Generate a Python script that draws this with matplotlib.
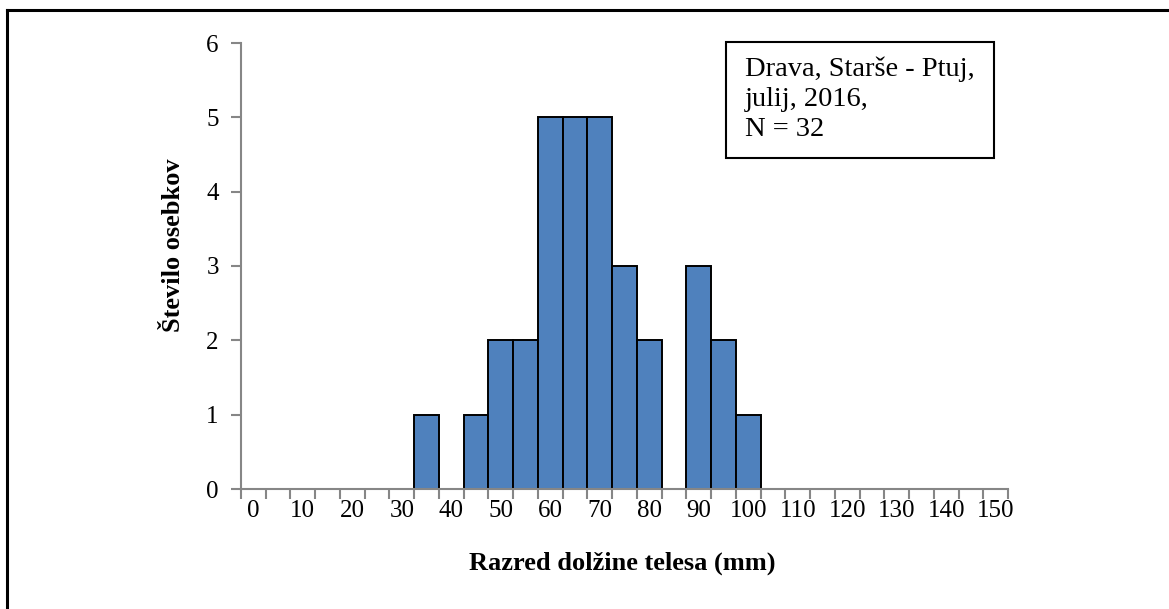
import matplotlib
matplotlib.use("Agg")
import matplotlib.pyplot as plt
from matplotlib.lines import Line2D
from matplotlib.patches import Rectangle

# Length classes (mm) and number of specimens per class
length_classes = list(range(0, 155, 5))
counts = [0, 0, 0, 0, 0, 0, 0, 1, 0, 1, 2, 2, 5, 5, 5, 3, 2, 0, 3, 2, 1,
          0, 0, 0, 0, 0, 0, 0, 0, 0, 0]
tick_labels = [str(c) if c % 10 == 0 else "" for c in length_classes]
y_ticks = [0, 1, 2, 3, 4, 5, 6]

plt.rcParams["font.family"] = ["Liberation Serif", "DejaVu Serif"]

fig = plt.figure(figsize=(11.69, 6.09), dpi=100)
ax = fig.add_axes([241 / 1169, 1 - 489 / 609, (1008 - 241) / 1169, (489 - 43) / 609])

pos = list(range(len(length_classes)))
ax.bar(pos, counts, width=1.0, color="#4F81BD", edgecolor="black", linewidth=1.4, zorder=3)

axis_col = "#868686"
ax.set_xlim(-0.5, len(length_classes) - 0.5)
ax.set_ylim(0, 6)
for side in ("top", "right"):
    ax.spines[side].set_visible(False)
for side in ("left", "bottom"):
    ax.spines[side].set_color(axis_col)
    ax.spines[side].set_linewidth(1.5)
ax.spines["bottom"].set_zorder(4)

# tick marks at class boundaries, labels centred in each class
ax.set_xticks([p - 0.5 for p in pos] + [pos[-1] + 0.5])
ax.set_xticklabels([])
ax.set_xticks(pos, minor=True)
ax.set_xticklabels(tick_labels, minor=True, fontsize=18)
ax.tick_params(axis="x", which="major", direction="out", length=7, width=1.5, color=axis_col)
ax.tick_params(axis="x", which="minor", length=0, pad=8)

ax.set_yticks(y_ticks)
ax.set_yticklabels([str(v) for v in y_ticks], fontsize=18)
ax.tick_params(axis="y", direction="out", length=7, width=1.5, color=axis_col, pad=9)

fig.text(622 / 1169, 1 - 563 / 609, "Razred dolžine telesa (mm)", ha="center", va="center",
         fontsize=19, fontweight="bold")
fig.text(173 / 1169, 1 - 245 / 609, "Število osebkov", ha="center", va="center",
         rotation=90, fontsize=19, fontweight="bold")

# legend-style info box
fig.patches.append(Rectangle((726 / 1169, 1 - 158 / 609), (994 - 726) / 1169, (158 - 42) / 609,
                             transform=fig.transFigure, facecolor="white", edgecolor="black",
                             linewidth=1.5, zorder=5))
for i, line in enumerate(["Drava, Starše - Ptuj,", "julij, 2016,", "N = 32"]):
    fig.text(745 / 1169, 1 - (76 + 30 * i) / 609, line, ha="left", va="baseline",
             fontsize=20.5, zorder=6)

# outer frame (top and left edges)
fig.add_artist(Line2D([7 / 1169, 1.0], [1 - 10 / 609, 1 - 10 / 609], transform=fig.transFigure,
                      color="black", linewidth=2.2))
fig.add_artist(Line2D([7 / 1169, 7 / 1169], [0.0, 1 - 10 / 609], transform=fig.transFigure,
                      color="black", linewidth=2.2))

fig.savefig("out.png", dpi=100, facecolor="white")
